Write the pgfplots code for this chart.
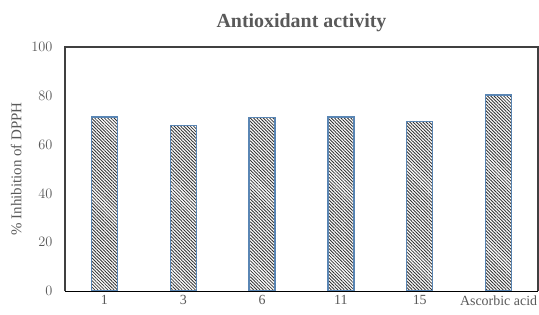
\documentclass[border=0pt]{standalone}
\usepackage{pgfplots}
\pgfplotsset{compat=1.18}
\usetikzlibrary{patterns.meta}
\usepackage{fontspec}
\setmainfont{Liberation Serif}
\definecolor{txt}{HTML}{595959}
\definecolor{barborder}{HTML}{5A86B4}
\definecolor{hatch}{HTML}{333333}
\definecolor{frame}{HTML}{404040}
\definecolor{baseline}{HTML}{D9D9D9}
\begin{document}
\begin{tikzpicture}
\useasboundingbox (-65bp,-24bp) rectangle (474bp,291bp);
\begin{axis}[
  at={(0,0)}, anchor=south west,
  scale only axis,
  width=473bp, height=244bp,
  xmin=-0.5, xmax=5.5,
  ymin=0, ymax=100,
  ytick={0,20,40,60,80,100},
  xtick={0,1,2,3,4,5},
  xticklabels={1,3,6,11,15,Ascorbic acid},
  major tick length=0pt,
  axis line style={draw=none},
  tick label style={font=\fontsize{14}{16}\selectfont, text=txt},
  yticklabel style={xshift=-9bp},
  xticklabel style={yshift=-1bp},
  ylabel={\% Inhibition of DPPH},
  ylabel style={font=\fontsize{15}{17}\selectfont, text=txt},
  ylabel shift=3bp,
  title={\textbf{Antioxidant activity}},
  title style={font=\fontsize{20}{23}\selectfont, text=txt, yshift=6bp},
  ybar, bar width=26bp,
  clip=false,
]
\addplot[draw=barborder, line width=1.3pt,
  pattern={Lines[angle=-45, distance=2.3pt, line width=0.85pt]}, pattern color=hatch]
  coordinates {(0,71.3) (1,67.9) (2,71.0) (3,71.3) (4,69.5) (5,80.3)};
\draw[baseline, line width=1pt] (rel axis cs:0,0) -- (rel axis cs:1,0);
\draw[frame, line width=1.3pt] (rel axis cs:0,0) -- (rel axis cs:0,1) -- (rel axis cs:1,1) -- (rel axis cs:1,0);
\end{axis}
\end{tikzpicture}
\end{document}
